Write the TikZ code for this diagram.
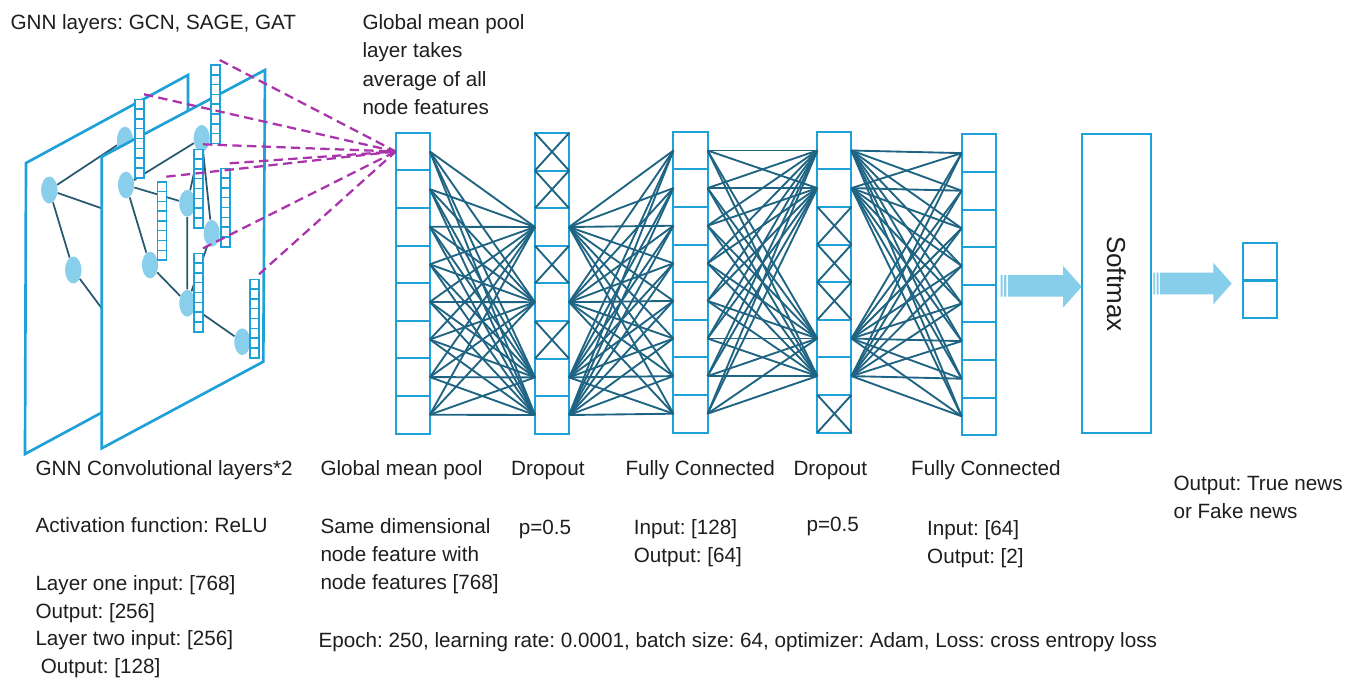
\documentclass[tikz,border=0pt]{standalone}
\usepackage{fontspec}
\setmainfont{Liberation Sans}
\usetikzlibrary{shapes.geometric}
\frenchspacing

\tikzset{every picture/.style={line width=0.75pt}}
\tikzset{
  cellbox/.style={draw={rgb, 255:red, 30; green, 160; blue, 216}, fill=white, line width=1.5pt, minimum width=25.6pt, minimum height=28.2pt, inner sep=0pt, outer sep=0pt},
  featcol/.style={draw={rgb, 255:red, 30; green, 160; blue, 216}, fill=white, line width=1.2pt, minimum width=6.75pt, minimum height=58.8pt, inner sep=0pt, outer sep=0pt},
  featline/.style={draw={rgb, 255:red, 30; green, 160; blue, 216}, line width=1.1pt},
  plane/.style={draw={rgb, 255:red, 30; green, 160; blue, 216}, line width=2pt, line join=miter},
  gnode/.style={ellipse, fill={rgb, 255:red, 137; green, 206; blue, 234}, minimum width=12pt, minimum height=20pt, inner sep=0pt},
  gedge/.style={draw={rgb, 255:red, 38; green, 88; blue, 112}, line width=1.3pt},
  wire/.style={draw={rgb, 255:red, 31; green, 100; blue, 130}, line width=1.4pt},
  poolline/.style={draw={rgb, 255:red, 170; green, 52; blue, 170}, line width=1.7pt, dash pattern=on 7pt off 4pt},
  bigarrow/.style={fill={rgb, 255:red, 135; green, 206; blue, 234}},
  txt/.style={anchor=base west, inner sep=0pt, align=left, text={rgb, 255:red, 30; green, 30; blue, 30}, font=\fontsize{15.5}{21.3}\selectfont},
}

\begin{document}
\begin{tikzpicture}[x=0.75pt,y=0.75pt,yscale=-1,xscale=1]
\useasboundingbox (0,0) rectangle (1356,679);

%Shape: back graph plane
\draw [plane] (26,163) -- (188,75) -- (188,366) -- (25,454) -- cycle ;
\node [gnode] (bA) at (49.3,190) {};
\node [gnode] (bB) at (73.3,270) {};
\node [gnode] (bC) at (125,140) {};
\coordinate (bHidA) at (140,221.7);
\coordinate (bHidB) at (120,333);
\draw [gedge] (bA) -- (bC) (bA) -- (bHidA) (bA) -- (bB) (bB) -- (bHidB);
\node [gnode] at (bA) {};
\node [gnode] at (bB) {};

%Shape: front graph plane
\draw [plane, fill=white] (101.7,156.7) -- (265,70) -- (263.3,361.7) -- (101.7,448.3) -- cycle ;
\node [gnode] (nA) at (126,185) {};
\node [gnode] (nB) at (201.7,138.3) {};
\node [gnode] (nC) at (187.3,203.3) {};
\node [gnode] (nD) at (211.7,233.3) {};
\node [gnode] (nE) at (150,265) {};
\node [gnode] (nF) at (187.3,303.3) {};
\node [gnode] (nG) at (242.3,341.7) {};
\draw [gedge] (nA) -- (nB) (nA) -- (nC) (nA) -- (nE) (nE) -- (nF) (nB) -- (nD)
  (nB) -- (nC) (nC) -- (nF) (nD) -- (nF) (nF) -- (nG);

%Node feature vectors
\foreach \i/\xl/\yt in {1/135/99.3, 2/210.7/65, 3/194/149.3, 4/157.3/181.7, 5/220.7/168.3, 6/194/253.3, 7/250/279.3} {
  \node [featcol] (feat\i) at ({\xl+4.5},{\yt+39.2}) {};
  \foreach \k in {1,...,7}
    \draw [featline] (\xl,{\yt+9.8*\k}) -- ({\xl+9},{\yt+9.8*\k});
}

%Layer stacks
\foreach \nm/\cx/\ty in {pool/412.8/132.7, dropA/552/133, fcA/690.5/131.7, dropB/834.4/131.7, fcB/978.7/134.3}
  \foreach \j in {1,...,8}
    \node [cellbox] (\nm\j) at (\cx,{\ty+37.6*(\j-0.5)}) {};

%Straight Lines: dense connections
\foreach \i in {1,...,8} \foreach \j in {3,5,7,8} \draw [wire] (pool\i.east) -- (dropA\j.west);
\foreach \i in {3,5,7,8} \foreach \j in {1,...,8} \draw [wire] (dropA\i.east) -- (fcA\j.west);
\foreach \i in {1,...,8} \foreach \j in {1,2,6,7} \draw [wire] (fcA\i.east) -- (dropB\j.west);
\foreach \i in {1,2,6,7} \foreach \j in {1,...,8} \draw [wire] (dropB\i.east) -- (fcB\j.west);

%dropped units
\foreach \c in {dropA1,dropA2,dropA4,dropA6,dropB3,dropB4,dropB5,dropB8}
  \draw [wire] (\c.north west) -- (\c.south east) (\c.south west) -- (\c.north east);

%Dashed lines into the pooling layer
\foreach \i in {1,...,7}
  \draw [poolline] ([yshift=-3.75pt]feat\i.north east) -- (pool1.west);

%Shape: softmax box and block arrows
\node [cellbox, minimum width=52pt, minimum height=224.3pt] (softmax) at (1116.3,283.8) {};
\node [rotate=-90, inner sep=0pt, text={rgb, 255:red, 30; green, 30; blue, 30}, font=\fontsize{19.5}{20}\selectfont] (softmaxLbl) at (softmax.center) {Softmax};
\fill [bigarrow] (1008,275) -- (1063,275) -- (1063,265.7) -- (1081.7,286.7) -- (1063,307.7) -- (1063,296.7) -- (1008,296.7) -- cycle ;
\fill [bigarrow] (1000.7,275) rectangle (1002.5,296.7) (1004,275) rectangle (1006.3,296.7);
\fill [bigarrow] (1160,272.7) -- (1213.3,272.7) -- (1213.3,262.7) -- (1231.7,283.5) -- (1213.3,304.3) -- (1213.3,294.3) -- (1160,294.3) -- cycle ;
\fill [bigarrow] (1153.3,272.7) rectangle (1155,294.3) (1156.5,272.7) rectangle (1158.6,294.3);
\node [cellbox] (out1) at (1260.3,261.6) {};
\node [cellbox] (out2) at (1260.3,299.4) {};

% Text Node (multi-line nodes sit on their last baseline)
\node [txt] (tLayers) at (10,29) {GNN layers: GCN, SAGE, GAT};
\node [txt] (tPoolNote) at (362,114.7) {Global mean pool\\layer takes\\average of all\\node features};
% Text Node
\node [txt] (tConv) at (35,475) {GNN Convolutional layers*2};
\node [txt] (tPool) at (320,475) {Global mean pool};
\node [txt] (tDropA) at (510.7,475) {Dropout};
\node [txt] (tFcA) at (625,475) {Fully Connected};
\node [txt] (tDropB) at (793,475) {Dropout};
\node [txt] (tFcB) at (910.7,475) {Fully Connected};
% Text Node
\node [txt] (tAct) at (35,532) {Activation function: ReLU};
\node [txt] (tSame) at (320,589.8) {Same dimensional\\node feature with\\node features [768]};
\node [txt] (tPA) at (518.3,534) {p=0.5};
\node [txt] (tIoA) at (633.3,562.4) {Input: [128]\\Output: [64]};
\node [txt] (tPB) at (806,531) {p=0.5};
\node [txt] (tIoB) at (926.7,563.4) {Input: [64]\\Output: [2]};
\node [txt] (tOut) at (1173,518.7) {Output: True news\\or Fake news};
\node [txt, font=\fontsize{15.5}{20.8}\selectfont] (tDims) at (35,673.5) {Layer one input: [768]\\Output: [256]\\Layer two input: [256]\\\hspace*{4pt}Output: [128]};
\node [txt] (tTrain) at (318,647) {Epoch: 250, learning rate: 0.0001, batch size: 64, optimizer: Adam, Loss: cross entropy loss};

\end{tikzpicture}
\end{document}
